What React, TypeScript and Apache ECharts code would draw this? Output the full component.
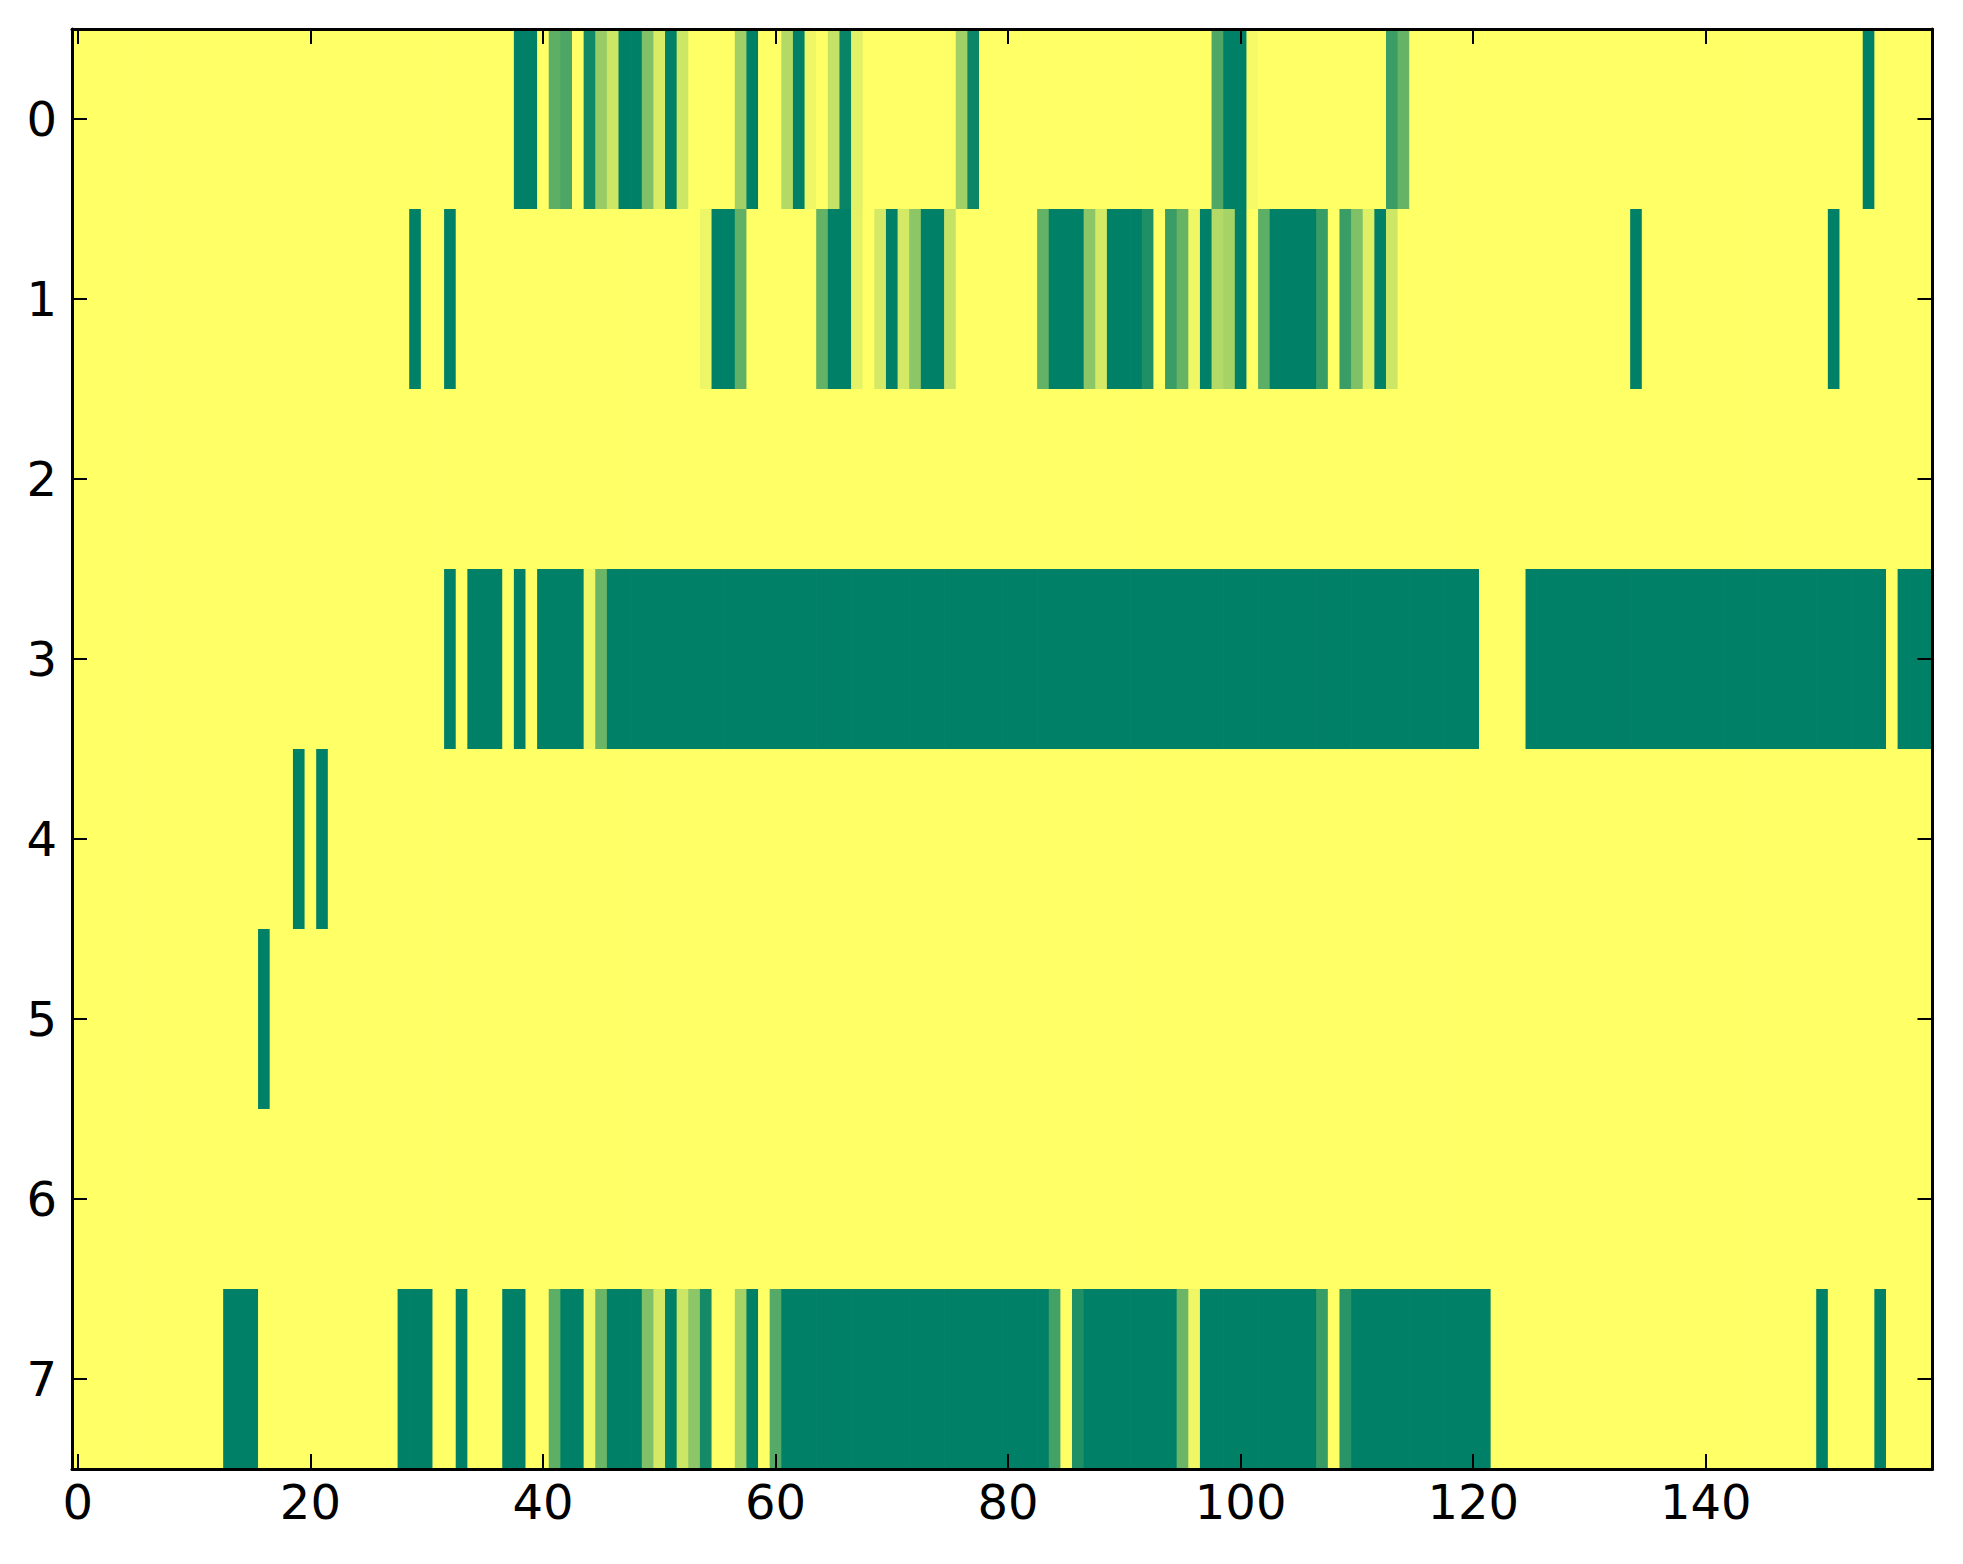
import React, { useEffect, useRef } from "react";
import * as echarts from "echarts";

// Number of columns in the image (x runs 0..159)
const NUM_COLS = 160;
// Row labels (y axis, top to bottom)
const rowLabels = ["0", "1", "2", "3", "4", "5", "6", "7"];
// Every cell not listed below has value 1 (yellow)
const baseValue = 1;
// x tick label step
const xTickStep = 20;

// Runs of non-yellow cells: [startCol, endCol (inclusive), value]
const row0Runs: [number, number, number][] = [
  [38, 39, 0], [41, 41, 0.37], [42, 42, 0.3], [44, 44, 0.07], [45, 45, 0.6],
  [46, 46, 0.8], [47, 48, 0], [49, 49, 0.5], [50, 50, 0.85], [51, 51, 0],
  [52, 52, 0.8], [57, 57, 0.63], [58, 58, 0], [61, 61, 0.7], [62, 62, 0],
  [63, 63, 0.94], [65, 65, 0.77], [66, 66, 0.03], [67, 67, 0.89],
  [76, 76, 0.63], [77, 77, 0.05], [98, 98, 0.31], [99, 100, 0],
  [101, 101, 0.96], [113, 113, 0.23], [114, 114, 0.4], [154, 154, 0],
];
const row1Runs: [number, number, number][] = [
  [29, 29, 0], [32, 32, 0], [54, 54, 0.93], [55, 56, 0], [57, 57, 0.38],
  [64, 64, 0.39], [65, 66, 0], [67, 67, 0.9], [69, 69, 0.83], [70, 70, 0],
  [71, 71, 0.83], [72, 72, 0.55], [73, 74, 0], [75, 75, 0.77],
  [83, 83, 0.39], [84, 86, 0], [87, 87, 0.55], [88, 88, 0.83], [89, 91, 0],
  [92, 92, 0.12], [94, 94, 0.23], [95, 95, 0.4], [96, 96, 0.94], [97, 97, 0],
  [98, 98, 0.7], [99, 99, 0.65], [100, 100, 0], [102, 102, 0.37],
  [103, 106, 0], [107, 107, 0.22], [109, 109, 0.23], [110, 110, 0.5],
  [111, 111, 0.88], [112, 112, 0], [113, 113, 0.8], [134, 134, 0],
  [151, 151, 0],
];
const row2Runs: [number, number, number][] = [];
const row3Runs: [number, number, number][] = [
  [32, 32, 0], [34, 36, 0], [38, 38, 0], [40, 43, 0], [44, 44, 0.94],
  [45, 45, 0.42], [46, 120, 0], [125, 155, 0], [157, 159, 0],
];
const row4Runs: [number, number, number][] = [[19, 19, 0], [21, 21, 0]];
const row5Runs: [number, number, number][] = [[16, 16, 0]];
const row6Runs: [number, number, number][] = [];
const row7Runs: [number, number, number][] = [
  [13, 15, 0], [28, 30, 0], [33, 33, 0], [37, 38, 0], [41, 41, 0.37],
  [42, 43, 0], [44, 44, 0.94], [45, 45, 0.42], [46, 48, 0], [49, 49, 0.5],
  [50, 50, 0.83], [51, 51, 0], [52, 52, 0.8], [53, 53, 0.55],
  [54, 54, 0.08], [57, 57, 0.65], [58, 58, 0], [60, 60, 0.33],
  [61, 83, 0], [84, 84, 0.26], [86, 86, 0.12], [87, 94, 0],
  [95, 95, 0.42], [96, 96, 0.94], [97, 106, 0], [107, 107, 0.22],
  [109, 109, 0.16], [110, 121, 0], [150, 150, 0], [155, 155, 0],
];

const allRowRuns = [row0Runs, row1Runs, row2Runs, row3Runs, row4Runs, row5Runs, row6Runs, row7Runs];

// Colormap ends ("summer")
const colorLow = "#008066";
const colorHigh = "#ffff66";

function buildCells(): number[][] {
  const cells: number[][] = [];
  allRowRuns.forEach((runs, r) => {
    const vals: number[] = new Array(NUM_COLS).fill(baseValue);
    runs.forEach(([s, e, v]) => {
      for (let c = s; c <= e; c++) vals[c] = v;
    });
    vals.forEach((v, c) => cells.push([c, r, v]));
  });
  return cells;
}

const colCategories = Array.from({ length: NUM_COLS }, (_, i) => String(i));

export default function App() {
  const ref = useRef<HTMLDivElement>(null);
  useEffect(() => {
    if (!ref.current) return;
    const chart = echarts.init(ref.current, undefined, { renderer: "svg" });
    const font = "DejaVu Sans";
    const tickFn = (i: number) => i % xTickStep === 0;
    const axisLine = { show: true, onZero: false, lineStyle: { color: "#000", width: 3 } };
    const tickStyle = { color: "#000", width: 2 };
    chart.setOption({
      animation: false,
      backgroundColor: "#fff",
      grid: { left: 72, top: 29, width: 1860.5, height: 1440, containLabel: false },
      xAxis: [
        {
          type: "category",
          data: colCategories,
          position: "bottom",
          boundaryGap: true,
          z: 5,
          axisLine,
          axisTick: { show: true, inside: true, length: 15, alignWithLabel: true, interval: tickFn, lineStyle: tickStyle },
          axisLabel: { show: true, interval: tickFn, fontSize: 48, fontFamily: font, color: "#000", margin: 9 },
          splitLine: { show: false },
        },
        {
          type: "category",
          data: colCategories,
          position: "top",
          boundaryGap: true,
          z: 5,
          axisLine,
          axisTick: { show: true, inside: true, length: 15, alignWithLabel: true, interval: tickFn, lineStyle: tickStyle },
          axisLabel: { show: false },
          splitLine: { show: false },
        },
      ],
      yAxis: [
        {
          type: "category",
          data: rowLabels,
          inverse: true,
          position: "left",
          boundaryGap: true,
          z: 5,
          axisLine,
          axisTick: { show: true, inside: true, length: 15, alignWithLabel: true, lineStyle: tickStyle },
          axisLabel: { show: true, fontSize: 48, fontFamily: font, color: "#000", margin: 15 },
          splitLine: { show: false },
        },
        {
          type: "category",
          data: rowLabels,
          inverse: true,
          position: "right",
          boundaryGap: true,
          z: 5,
          axisLine,
          axisTick: { show: true, inside: true, length: 15, alignWithLabel: true, lineStyle: tickStyle },
          axisLabel: { show: false },
          splitLine: { show: false },
        },
      ],
      visualMap: {
        type: "continuous",
        show: false,
        min: 0,
        max: 1,
        dimension: 2,
        seriesIndex: 0,
        inRange: { color: [colorLow, colorHigh] },
      },
      series: [
        {
          type: "custom",
          xAxisIndex: 0,
          yAxisIndex: 0,
          z: 1,
          encode: { x: 0, y: 1 },
          data: buildCells(),
          renderItem: (params: any, api: any) => {
            const p = api.coord([api.value(0), api.value(1)]);
            const size = api.size([1, 1]);
            return {
              type: "rect",
              shape: {
                x: p[0] - size[0] / 2,
                y: p[1] - size[1] / 2,
                width: size[0] + 0.7,
                height: size[1] + 0.7,
              },
              style: { fill: api.visual("color"), stroke: null },
            };
          },
        },
      ],
    });
    return () => chart.dispose();
  }, []);
  return (
    <div
      ref={ref}
      style={{ position: "absolute", left: 0, top: 0, width: 1963, height: 1564 }}
    />
  );
}
